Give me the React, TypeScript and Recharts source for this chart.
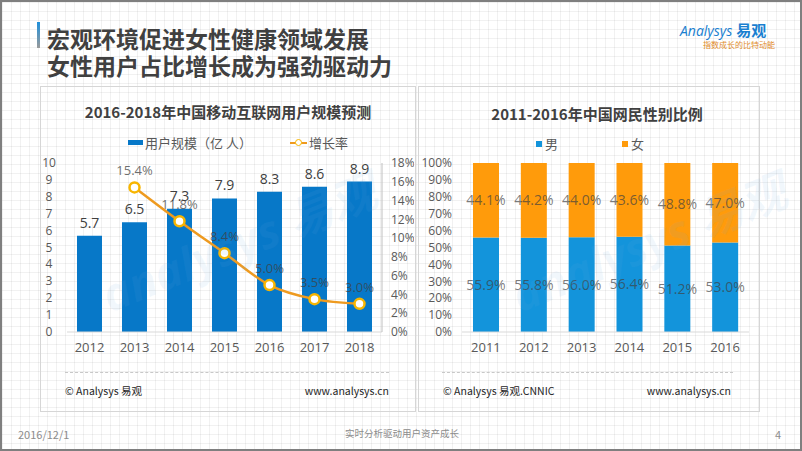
import React from 'react';
import { ComposedChart, BarChart, Bar, Line, XAxis, YAxis, LabelList } from 'recharts';

// user scale forecast (left chart)
const scaleYears = ['2012', '2013', '2014', '2015', '2016', '2017', '2018'];
const userScale = [5.7, 6.5, 7.3, 7.9, 8.3, 8.6, 8.9];
const growthRate = [null, 15.4, 11.8, 8.4, 5.0, 3.5, 3.0];
const leftTicks = [0, 1, 2, 3, 4, 5, 6, 7, 8, 9, 10];
const rightTicks = [0, 2, 4, 6, 8, 10, 12, 14, 16, 18];

// gender ratio (right chart)
const genderYears = ['2011', '2012', '2013', '2014', '2015', '2016'];
const maleShare = [55.9, 55.8, 56.0, 56.4, 51.2, 53.0];
const femaleShare = [44.1, 44.2, 44.0, 43.6, 48.8, 47.0];
const shareTicks = [0, 10, 20, 30, 40, 50, 60, 70, 80, 90, 100];

const BAR_BLUE = '#0778C8';
const LINE_ORANGE = '#EE9A1F';
const MALE_BLUE = '#1394DB';
const FEMALE_ORANGE = '#FF9B0B';
const TEXT = '#404040';
const FONT = "'Open Sans', 'Noto Sans CJK SC', sans-serif";
const CJK = "'Noto Sans CJK SC', 'Open Sans', sans-serif";

const scaleData = scaleYears.map((year, i) => ({ year, users: userScale[i], growth: growthRate[i] }));
const genderData = genderYears.map((year, i) => ({ year, male: maleShare[i], female: femaleShare[i] }));

const pct1 = (v: any) => (v == null ? '' : `${Number(v).toFixed(1)}%`);

const LeftTick = ({ y, payload }: any) => (
  <text x={9} y={y} dy={4} textAnchor="middle" fontSize={12} fill="#595959" fontFamily={FONT}>
    {payload.value}
  </text>
);

const Watermark = ({ left, top }: { left: number; top: number }) => (
  <div
    style={{
      position: 'absolute', left, top, transform: 'rotate(-22deg)', fontFamily: FONT,
      fontSize: 46, fontWeight: 700, fontStyle: 'italic', color: 'rgba(110,170,225,0.09)',
      whiteSpace: 'nowrap', pointerEvents: 'none',
    }}
  >
    analysys 易观
  </div>
);

export default function App() {
  return (
    <div
      style={{
        position: 'absolute', left: 0, top: 0, width: 802, height: 451, boxSizing: 'border-box',
        border: '2px solid #7f7f7f', overflow: 'hidden', fontFamily: CJK, background: '#fff',
        backgroundImage:
          'linear-gradient(to right, rgba(0,0,0,0.055) 1px, transparent 1px), linear-gradient(to bottom, rgba(0,0,0,0.055) 1px, transparent 1px)',
        backgroundSize: '9px 9px',
      }}
    >
      {/* header */}
      <div style={{ position: 'absolute', left: 35, top: 20, width: 3, height: 26, background: 'linear-gradient(#1E90DC, #9a9a9a)' }} />
      <div style={{ position: 'absolute', left: 45, top: 23, fontSize: 23, fontWeight: 700, color: TEXT, lineHeight: '26px', whiteSpace: 'nowrap' }}>
        宏观环境促进女性健康领域发展
      </div>
      <div style={{ position: 'absolute', left: 45, top: 50, fontSize: 23, fontWeight: 700, color: TEXT, lineHeight: '26px', whiteSpace: 'nowrap' }}>
        女性用户占比增长成为强劲驱动力
      </div>
      <div style={{ position: 'absolute', left: 678, top: 17, color: '#1A7FD0', whiteSpace: 'nowrap', lineHeight: '20px' }}>
        <span style={{ fontFamily: FONT, fontStyle: 'italic', fontSize: 14 }}>Analysys</span>
        <span style={{ fontSize: 15, fontWeight: 700, marginLeft: 4 }}>易观</span>
      </div>
      <div style={{ position: 'absolute', left: 701, top: 38, fontSize: 8, lineHeight: '10px', color: '#E08B2A', whiteSpace: 'nowrap' }}>
        指数成长的比特动能
      </div>

      {/* panels */}
      <div style={{ position: 'absolute', left: 38, top: 84, width: 374, height: 324, border: '1px solid #d6d6d6' }} />
      <div style={{ position: 'absolute', left: 416, top: 84, width: 340, height: 324, border: '1px solid #d6d6d6' }} />

      {/* left chart */}
      <div style={{ position: 'absolute', left: 38, top: 99, width: 376, textAlign: 'center', fontSize: 15, fontWeight: 700, color: TEXT }}>
        2016-2018年中国移动互联网用户规模预测
      </div>
      <div style={{ position: 'absolute', left: 126, top: 131, display: 'flex', alignItems: 'center', fontSize: 13, color: '#595959', whiteSpace: 'nowrap' }}>
        <span style={{ width: 15, height: 5, background: BAR_BLUE, display: 'inline-block', marginRight: 2 }} />
        用户规模（亿 人）
        <span style={{ position: 'relative', width: 17, height: 9, display: 'inline-block', marginLeft: 38, marginRight: 2 }}>
          <span style={{ position: 'absolute', left: 0, top: 4, width: 17, height: 2, background: LINE_ORANGE }} />
          <span style={{ position: 'absolute', left: 5, top: 1, width: 5, height: 5, borderRadius: 4, border: '1.5px solid #F7B500', background: '#fff' }} />
        </span>
        增长率
      </div>
      <div style={{ position: 'absolute', left: 38, top: 148 }}>
        <ComposedChart width={374} height={210} data={scaleData} margin={{ top: 13, right: 0, left: 0, bottom: 0 }}>
          <XAxis dataKey="year" height={28} tickLine={false} axisLine={{ stroke: '#d9d9d9' }} tickMargin={5} interval={0}
            tick={{ fontSize: 13, fill: '#595959', fontFamily: FONT }} />
          <YAxis yAxisId="left" width={27} domain={[0, 10]} ticks={leftTicks} interval={0} axisLine={false} tickLine={false} tick={<LeftTick />} />
          <YAxis yAxisId="right" orientation="right" width={32} domain={[0, 18]} ticks={rightTicks} interval={0}
            tickFormatter={(v) => `${v}%`} axisLine={{ stroke: '#bfbfbf' }} tickLine={false} tickMargin={3}
            tick={{ fontSize: 12, fill: '#595959', fontFamily: FONT, textAnchor: 'start' }} />
          <Bar yAxisId="left" dataKey="users" fill={BAR_BLUE} barSize={25} isAnimationActive={false}>
            <LabelList dataKey="users" position="top" offset={8} fontSize={14} fill={TEXT} fontFamily={FONT} />
          </Bar>
          <Line yAxisId="right" dataKey="growth" type="monotone" stroke={LINE_ORANGE} strokeWidth={2.5}
            dot={{ r: 5, fill: '#fff', stroke: '#F7B500', strokeWidth: 2.5 }} isAnimationActive={false}>
            <LabelList dataKey="growth" position="top" offset={12} fontSize={13} fill={TEXT} fillOpacity={0.75}
              fontFamily={FONT} formatter={pct1} />
          </Line>
        </ComposedChart>
      </div>
      <Watermark left={90} top={205} />

      {/* right chart */}
      <div style={{ position: 'absolute', left: 416, top: 101, width: 358, textAlign: 'center', fontSize: 15, fontWeight: 700, color: TEXT }}>
        2011-2016年中国网民性别比例
      </div>
      <div style={{ position: 'absolute', left: 534, top: 132, display: 'flex', alignItems: 'center', fontSize: 13, color: '#595959' }}>
        <span style={{ width: 6, height: 6, background: MALE_BLUE, display: 'inline-block', marginRight: 3 }} />
        男
        <span style={{ width: 6, height: 6, background: FEMALE_ORANGE, display: 'inline-block', marginLeft: 64, marginRight: 3 }} />
        女
      </div>
      <div style={{ position: 'absolute', left: 416, top: 148 }}>
        <BarChart width={340} height={210} data={genderData} margin={{ top: 13, right: 9, left: 0, bottom: 0 }}>
          <XAxis dataKey="year" height={28} tickLine={false} axisLine={{ stroke: '#d9d9d9' }} tickMargin={5} interval={0}
            tick={{ fontSize: 13, fill: '#595959', fontFamily: FONT }} />
          <YAxis width={44} domain={[0, 100]} ticks={shareTicks} interval={0} tickFormatter={(v) => `${v}%`}
            axisLine={false} tickLine={false} tickMargin={4} tick={{ fontSize: 12, fill: '#595959', fontFamily: FONT }} />
          <Bar dataKey="male" stackId="g" fill={MALE_BLUE} barSize={26} isAnimationActive={false}>
            <LabelList dataKey="male" position="center" fontSize={14} fill={TEXT} fillOpacity={0.7} fontFamily={FONT} formatter={pct1} />
          </Bar>
          <Bar dataKey="female" stackId="g" fill={FEMALE_ORANGE} barSize={26} isAnimationActive={false}>
            <LabelList dataKey="female" position="center" fontSize={14} fill={TEXT} fillOpacity={0.7} fontFamily={FONT} formatter={pct1} />
          </Bar>
        </BarChart>
      </div>
      <Watermark left={500} top={205} />

      {/* source lines */}
      <div style={{ position: 'absolute', left: 63, top: 370, width: 324, borderTop: '1px dashed #c8c8c8' }} />
      <div style={{ position: 'absolute', left: 440, top: 370, width: 291, borderTop: '1px dashed #c8c8c8' }} />
      <div style={{ position: 'absolute', left: 63, top: 381, fontSize: 10.5, color: '#262626' }}>© Analysys 易观</div>
      <div style={{ position: 'absolute', left: 287, width: 100, top: 381, fontSize: 10.5, color: '#262626', textAlign: 'right' }}>www.analysys.cn</div>
      <div style={{ position: 'absolute', left: 441, top: 381, fontSize: 10.5, color: '#262626' }}>© Analysys 易观.CNNIC</div>
      <div style={{ position: 'absolute', left: 629, width: 100, top: 381, fontSize: 10.5, color: '#262626', textAlign: 'right' }}>www.analysys.cn</div>

      {/* slide footer */}
      <div style={{ position: 'absolute', left: 16, top: 424, fontSize: 11, color: '#8c8c8c' }}>2016/12/1</div>
      <div style={{ position: 'absolute', left: 343, top: 424, fontSize: 9.5, color: '#8c8c8c' }}>实时分析驱动用户资产成长</div>
      <div style={{ position: 'absolute', left: 773, top: 424, fontSize: 11, color: '#8c8c8c' }}>4</div>
    </div>
  );
}
